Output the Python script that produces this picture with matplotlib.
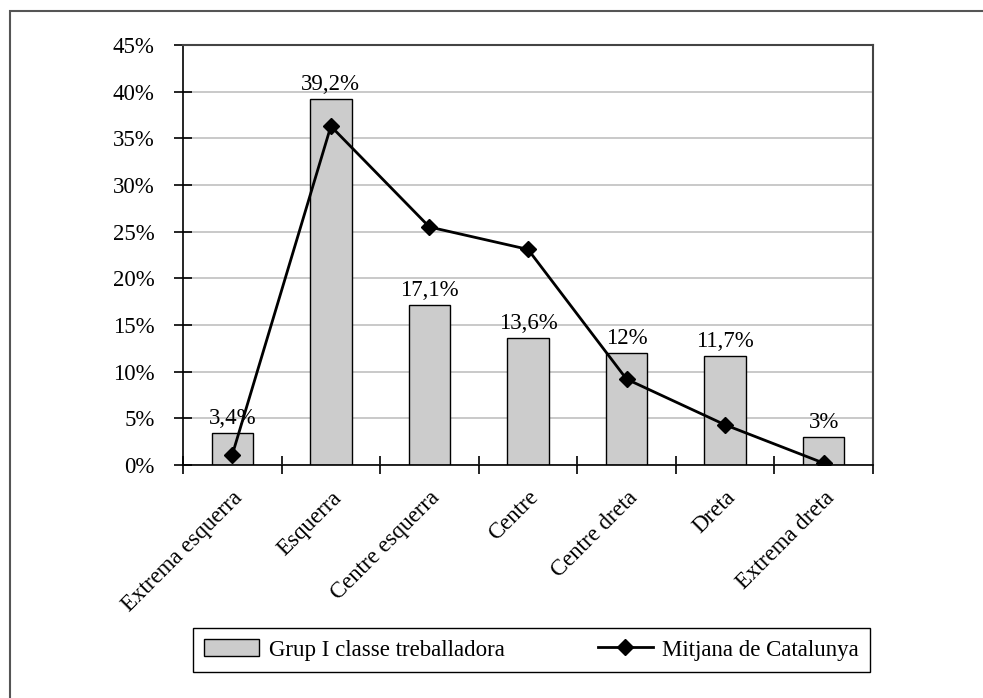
import matplotlib
matplotlib.use("Agg")
import matplotlib.pyplot as plt
from matplotlib.patches import Rectangle
import numpy as np

plt.rcParams["font.family"] = "Liberation Serif"

categories = ["Extrema esquerra", "Esquerra", "Centre esquerra", "Centre",
              "Centre dreta", "Dreta", "Extrema dreta"]
grup_values = [3.4, 39.2, 17.1, 13.6, 12.0, 11.7, 3.0]
grup_labels = ["3,4%", "39,2%", "17,1%", "13,6%", "12%", "11,7%", "3%"]
mitjana_values = [1.1, 36.3, 25.5, 23.1, 9.2, 4.3, 0.2]
yticks = [0, 5, 10, 15, 20, 25, 30, 35, 40, 45]

FS = 16.5
W, H = 983, 698
fig = plt.figure(figsize=(W / 100, H / 100), dpi=100)

# outer frame (cut at the right and bottom, as in the scan)
fig.patches.append(Rectangle((10 / W, -0.05), 1.2, 1 - 11 / H + 0.05,
                             transform=fig.transFigure, fill=False,
                             edgecolor="#555555", linewidth=1.5))

ax = fig.add_axes([183 / W, 1 - 465 / H, (873 - 183) / W, (465 - 45) / H])

x = np.arange(len(categories))
bars = ax.bar(x, grup_values, width=0.42, color="#cccccc", edgecolor="black",
              linewidth=1.0, label="Grup I classe treballadora", zorder=2)
line, = ax.plot(x, mitjana_values, color="black", linewidth=2, marker="D",
                markersize=8, label="Mitjana de Catalunya", zorder=3)

for b, lab in zip(bars, grup_labels):
    ax.annotate(lab, (b.get_x() + b.get_width() / 2, b.get_height()),
                xytext=(0, 3), textcoords="offset points",
                ha="center", va="bottom", fontsize=FS)

ax.set_xlim(-0.5, len(categories) - 0.5)
ax.set_ylim(0, 45)
ax.set_yticks(yticks)
ax.set_yticklabels([f"{v}%" for v in yticks], fontsize=FS)
ax.yaxis.grid(True, color="#c0c0c0", linewidth=1.2, zorder=0)
ax.set_axisbelow(True)
ax.tick_params(axis="y", direction="inout", length=13, width=1.2, pad=14)

ax.set_xticks(x)
ax.set_xticklabels(categories, rotation=45, ha="right", va="top",
                   rotation_mode="anchor", fontsize=FS)
ax.set_xticks(np.arange(len(categories) + 1) - 0.5, minor=True)
ax.tick_params(axis="x", which="major", length=0, pad=16)
ax.tick_params(axis="x", which="minor", direction="inout", length=13, width=1.2)

for s in ["left", "bottom"]:
    ax.spines[s].set_color("black")
    ax.spines[s].set_linewidth(1.2)
for s in ["top", "right"]:
    ax.spines[s].set_color("#444444")
    ax.spines[s].set_linewidth(1.5)

ax.legend(handles=[bars, line], loc="center", ncol=2, mode="expand",
          bbox_to_anchor=(193 / W, 1 - 673 / H, (870 - 193) / W, 46 / H),
          bbox_transform=fig.transFigure, fontsize=FS, frameon=True,
          fancybox=False, edgecolor="black", framealpha=1, borderaxespad=0,
          handlelength=2.4, handletextpad=0.4, borderpad=0.5)

fig.savefig("out.png", dpi=100)
